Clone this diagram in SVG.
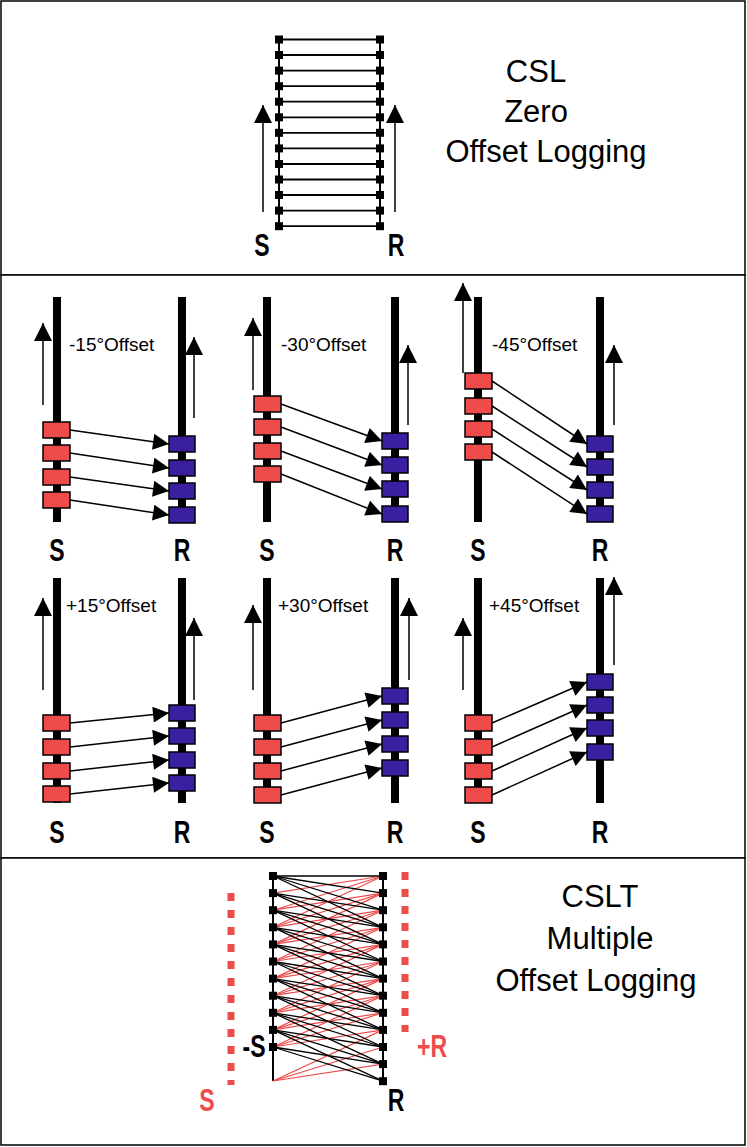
<svg xmlns="http://www.w3.org/2000/svg" width="747" height="1147" viewBox="0 0 747 1147">
<defs>
<marker id="au" viewBox="0 0 10 10" refX="10" refY="5" markerWidth="20" markerHeight="18" markerUnits="userSpaceOnUse" orient="auto"><path d="M0,0L10,5L0,10z" fill="#000"/></marker>
<marker id="ab" viewBox="0 0 10 10" refX="10" refY="5" markerWidth="18" markerHeight="16" markerUnits="userSpaceOnUse" orient="auto"><path d="M0,0L10,5L0,10z" fill="#000"/></marker>
</defs>
<style>
.frame{fill:#fff;stroke:#000;stroke-width:1.5}
.big{font-family:"Liberation Sans",Arial,sans-serif;font-size:31px;text-anchor:middle}
.lab{font-family:"Liberation Sans",Arial,sans-serif;font-size:32px;font-weight:bold;text-anchor:middle}
.off{font-family:"Liberation Sans",Arial,sans-serif;font-size:19px}
.bar{stroke:#000;stroke-width:8}
.up{stroke:#000;stroke-width:1.5;marker-end:url(#au)}
.red{fill:#ee4b4b;stroke:#000;stroke-width:1.5}
.blue{fill:#3a1fa0;stroke:#000;stroke-width:1.5}
.conn{stroke:#000;stroke-width:1.5;marker-end:url(#ab)}
</style>
<rect class="frame" x="1" y="1" width="744" height="274"/>
<rect class="frame" x="1" y="275" width="744" height="583"/>
<rect class="frame" x="1" y="858" width="744" height="287"/>

<g id="top">
<line x1="279" y1="39" x2="279" y2="227" stroke="#000" stroke-width="2"/>
<line x1="380" y1="39" x2="380" y2="227" stroke="#000" stroke-width="2"/>
<g id="ladder" stroke="#000" stroke-width="1.8">
<line x1="279" y1="39.5" x2="380" y2="39.5"/><line x1="279" y1="55" x2="380" y2="55"/><line x1="279" y1="70.6" x2="380" y2="70.6"/><line x1="279" y1="86.2" x2="380" y2="86.2"/><line x1="279" y1="101.7" x2="380" y2="101.7"/><line x1="279" y1="117.3" x2="380" y2="117.3"/><line x1="279" y1="132.8" x2="380" y2="132.8"/><line x1="279" y1="148.4" x2="380" y2="148.4"/><line x1="279" y1="164" x2="380" y2="164"/><line x1="279" y1="179.5" x2="380" y2="179.5"/><line x1="279" y1="195" x2="380" y2="195"/><line x1="279" y1="210.6" x2="380" y2="210.6"/><line x1="279" y1="226.2" x2="380" y2="226.2"/>
</g>
<g fill="#000">
<rect x="275" y="35.5" width="8" height="8"/><rect x="275" y="51" width="8" height="8"/><rect x="275" y="66.6" width="8" height="8"/><rect x="275" y="82.2" width="8" height="8"/><rect x="275" y="97.7" width="8" height="8"/><rect x="275" y="113.3" width="8" height="8"/><rect x="275" y="128.8" width="8" height="8"/><rect x="275" y="144.4" width="8" height="8"/><rect x="275" y="160" width="8" height="8"/><rect x="275" y="175.5" width="8" height="8"/><rect x="275" y="191" width="8" height="8"/><rect x="275" y="206.6" width="8" height="8"/><rect x="275" y="222.2" width="8" height="8"/>
<rect x="376" y="35.5" width="8" height="8"/><rect x="376" y="51" width="8" height="8"/><rect x="376" y="66.6" width="8" height="8"/><rect x="376" y="82.2" width="8" height="8"/><rect x="376" y="97.7" width="8" height="8"/><rect x="376" y="113.3" width="8" height="8"/><rect x="376" y="128.8" width="8" height="8"/><rect x="376" y="144.4" width="8" height="8"/><rect x="376" y="160" width="8" height="8"/><rect x="376" y="175.5" width="8" height="8"/><rect x="376" y="191" width="8" height="8"/><rect x="376" y="206.6" width="8" height="8"/><rect x="376" y="222.2" width="8" height="8"/>
</g>
<line class="up" x1="263" y1="212" x2="263" y2="105"/>
<line class="up" x1="395" y1="212" x2="395" y2="105"/>
<text class="lab" transform="translate(262,256) scale(0.72,1)">S</text>
<text class="lab" transform="translate(396,256) scale(0.72,1)">R</text>
<text class="big" x="536" y="82">CSL</text>
<text class="big" x="536" y="122">Zero</text>
<text class="big" x="546" y="162">Offset Logging</text>
</g>

<g id="p1">
<line class="bar" x1="57" y1="297" x2="57" y2="522"/><line class="bar" x1="182" y1="297" x2="182" y2="522"/>
<line class="up" x1="43" y1="405" x2="43" y2="323"/><line class="up" x1="194" y1="418" x2="194" y2="337"/>
<text class="off" x="69" y="351">-15°Offset</text>
<rect class="red" x="43" y="422" width="27" height="16"/><rect class="red" x="43" y="445" width="27" height="16"/><rect class="red" x="43" y="469" width="27" height="16"/><rect class="red" x="43" y="492" width="27" height="16"/>
<rect class="blue" x="169" y="436" width="26" height="16"/><rect class="blue" x="169" y="460" width="26" height="16"/><rect class="blue" x="169" y="483" width="26" height="16"/><rect class="blue" x="169" y="507" width="26" height="16"/>
<line class="conn" x1="70" y1="430" x2="169" y2="444"/><line class="conn" x1="70" y1="453" x2="169" y2="468"/><line class="conn" x1="70" y1="477" x2="169" y2="491"/><line class="conn" x1="70" y1="500" x2="169" y2="515"/>
<text class="lab" transform="translate(57,561) scale(0.72,1)">S</text><text class="lab" transform="translate(182,561) scale(0.72,1)">R</text>
</g>
<g id="p2">
<line class="bar" x1="267" y1="297" x2="267" y2="522"/><line class="bar" x1="395" y1="297" x2="395" y2="522"/>
<line class="up" x1="253" y1="390" x2="253" y2="318"/><line class="up" x1="408" y1="425" x2="408" y2="345"/>
<text class="off" x="281" y="351">-30°Offset</text>
<rect class="red" x="254" y="396" width="27" height="16"/><rect class="red" x="254" y="419" width="27" height="16"/><rect class="red" x="254" y="443" width="27" height="16"/><rect class="red" x="254" y="466" width="27" height="16"/>
<rect class="blue" x="382" y="433" width="26" height="16"/><rect class="blue" x="382" y="457" width="26" height="16"/><rect class="blue" x="382" y="481" width="26" height="16"/><rect class="blue" x="382" y="506" width="26" height="16"/>
<line class="conn" x1="281" y1="404" x2="382" y2="441"/><line class="conn" x1="281" y1="427" x2="382" y2="465"/><line class="conn" x1="281" y1="451" x2="382" y2="489"/><line class="conn" x1="281" y1="474" x2="382" y2="514"/>
<text class="lab" transform="translate(267,561) scale(0.72,1)">S</text><text class="lab" transform="translate(395,561) scale(0.72,1)">R</text>
</g>
<g id="p3">
<line class="bar" x1="478" y1="297" x2="478" y2="522"/><line class="bar" x1="600" y1="297" x2="600" y2="522"/>
<line class="up" x1="463" y1="373" x2="463" y2="283"/><line class="up" x1="614" y1="425" x2="614" y2="345"/>
<text class="off" x="492" y="351">-45°Offset</text>
<rect class="red" x="465" y="373" width="27" height="16"/><rect class="red" x="465" y="398" width="27" height="16"/><rect class="red" x="465" y="421" width="27" height="16"/><rect class="red" x="465" y="444" width="27" height="16"/>
<rect class="blue" x="587" y="436" width="26" height="16"/><rect class="blue" x="587" y="459" width="26" height="16"/><rect class="blue" x="587" y="482" width="26" height="16"/><rect class="blue" x="587" y="506" width="26" height="16"/>
<line class="conn" x1="492" y1="381" x2="587" y2="444"/><line class="conn" x1="492" y1="406" x2="587" y2="467"/><line class="conn" x1="492" y1="429" x2="587" y2="490"/><line class="conn" x1="492" y1="452" x2="587" y2="514"/>
<text class="lab" transform="translate(478,561) scale(0.72,1)">S</text><text class="lab" transform="translate(600,561) scale(0.72,1)">R</text>
</g>

<g id="p4">
<line class="bar" x1="57" y1="578" x2="57" y2="803"/><line class="bar" x1="182" y1="578" x2="182" y2="803"/>
<line class="up" x1="43" y1="690" x2="43" y2="598"/><line class="up" x1="194" y1="700" x2="194" y2="618"/>
<text class="off" x="66" y="612">+15°Offset</text>
<rect class="red" x="43" y="715" width="27" height="16"/><rect class="red" x="43" y="739" width="27" height="16"/><rect class="red" x="43" y="763" width="27" height="16"/><rect class="red" x="43" y="786" width="27" height="16"/>
<rect class="blue" x="169" y="705" width="26" height="16"/><rect class="blue" x="169" y="728" width="26" height="16"/><rect class="blue" x="169" y="752" width="26" height="16"/><rect class="blue" x="169" y="775" width="26" height="16"/>
<line class="conn" x1="70" y1="723" x2="169" y2="713"/><line class="conn" x1="70" y1="747" x2="169" y2="736"/><line class="conn" x1="70" y1="771" x2="169" y2="760"/><line class="conn" x1="70" y1="794" x2="169" y2="783"/>
<text class="lab" transform="translate(57,843) scale(0.72,1)">S</text><text class="lab" transform="translate(182,843) scale(0.72,1)">R</text>
</g>
<g id="p5">
<line class="bar" x1="267" y1="578" x2="267" y2="803"/><line class="bar" x1="395" y1="578" x2="395" y2="803"/>
<line class="up" x1="253" y1="690" x2="253" y2="605"/><line class="up" x1="409" y1="680" x2="409" y2="598"/>
<text class="off" x="278" y="612">+30°Offset</text>
<rect class="red" x="254" y="715" width="27" height="16"/><rect class="red" x="254" y="739" width="27" height="16"/><rect class="red" x="254" y="763" width="27" height="16"/><rect class="red" x="254" y="787" width="27" height="16"/>
<rect class="blue" x="382" y="688" width="26" height="16"/><rect class="blue" x="382" y="712" width="26" height="16"/><rect class="blue" x="382" y="736" width="26" height="16"/><rect class="blue" x="382" y="760" width="26" height="16"/>
<line class="conn" x1="281" y1="723" x2="382" y2="696"/><line class="conn" x1="281" y1="747" x2="382" y2="720"/><line class="conn" x1="281" y1="771" x2="382" y2="744"/><line class="conn" x1="281" y1="795" x2="382" y2="768"/>
<text class="lab" transform="translate(267,843) scale(0.72,1)">S</text><text class="lab" transform="translate(395,843) scale(0.72,1)">R</text>
</g>
<g id="p6">
<line class="bar" x1="478" y1="578" x2="478" y2="803"/><line class="bar" x1="600" y1="578" x2="600" y2="803"/>
<line class="up" x1="463" y1="690" x2="463" y2="618"/><line class="up" x1="614" y1="665" x2="614" y2="577"/>
<text class="off" x="489" y="612">+45°Offset</text>
<rect class="red" x="465" y="715" width="27" height="16"/><rect class="red" x="465" y="739" width="27" height="16"/><rect class="red" x="465" y="763" width="27" height="16"/><rect class="red" x="465" y="787" width="27" height="16"/>
<rect class="blue" x="587" y="674" width="26" height="16"/><rect class="blue" x="587" y="697" width="26" height="16"/><rect class="blue" x="587" y="720" width="26" height="16"/><rect class="blue" x="587" y="744" width="26" height="16"/>
<line class="conn" x1="492" y1="723" x2="587" y2="682"/><line class="conn" x1="492" y1="747" x2="587" y2="705"/><line class="conn" x1="492" y1="771" x2="587" y2="728"/><line class="conn" x1="492" y1="795" x2="587" y2="752"/>
<text class="lab" transform="translate(478,843) scale(0.72,1)">S</text><text class="lab" transform="translate(600,843) scale(0.72,1)">R</text>
</g>

<g id="bottom">
<line x1="231" y1="893" x2="231" y2="1085" stroke="#ee4b4b" stroke-width="7" stroke-dasharray="8,9"/>
<line x1="405" y1="872" x2="405" y2="1032" stroke="#ee4b4b" stroke-width="7" stroke-dasharray="8,9"/>
<line x1="273" y1="876" x2="273" y2="1081" stroke="#000" stroke-width="2"/>
<line x1="383" y1="876" x2="383" y2="1082" stroke="#000" stroke-width="2"/>
<g id="redlines" stroke="#ee4b4b" stroke-width="1.2">
<line x1="273" y1="893.1" x2="383" y2="876"/>
<line x1="273" y1="910.2" x2="383" y2="893.1"/><line x1="273" y1="910.2" x2="383" y2="876"/>
<line x1="273" y1="927.3" x2="383" y2="910.2"/><line x1="273" y1="927.3" x2="383" y2="893.1"/><line x1="273" y1="927.3" x2="383" y2="876"/>
<line x1="273" y1="944.4" x2="383" y2="927.3"/><line x1="273" y1="944.4" x2="383" y2="910.2"/><line x1="273" y1="944.4" x2="383" y2="893.1"/>
<line x1="273" y1="961.5" x2="383" y2="944.4"/><line x1="273" y1="961.5" x2="383" y2="927.3"/><line x1="273" y1="961.5" x2="383" y2="910.2"/>
<line x1="273" y1="978.6" x2="383" y2="961.5"/><line x1="273" y1="978.6" x2="383" y2="944.4"/><line x1="273" y1="978.6" x2="383" y2="927.3"/>
<line x1="273" y1="995.7" x2="383" y2="978.6"/><line x1="273" y1="995.7" x2="383" y2="961.5"/><line x1="273" y1="995.7" x2="383" y2="944.4"/>
<line x1="273" y1="1012.8" x2="383" y2="995.7"/><line x1="273" y1="1012.8" x2="383" y2="978.6"/><line x1="273" y1="1012.8" x2="383" y2="961.5"/>
<line x1="273" y1="1029.9" x2="383" y2="1012.8"/><line x1="273" y1="1029.9" x2="383" y2="995.7"/><line x1="273" y1="1029.9" x2="383" y2="978.6"/>
<line x1="273" y1="1047" x2="383" y2="1029.9"/><line x1="273" y1="1047" x2="383" y2="1012.8"/><line x1="273" y1="1047" x2="383" y2="995.7"/>
<line x1="273" y1="1081" x2="383" y2="1064.1"/><line x1="273" y1="1081" x2="383" y2="1047"/><line x1="273" y1="1081" x2="383" y2="1029.9"/>
</g>
<g id="blacklines" stroke="#000" stroke-width="1.3">
<line x1="273" y1="876" x2="383" y2="876"/><line x1="273" y1="876" x2="383" y2="893.1"/><line x1="273" y1="876" x2="383" y2="910.2"/><line x1="273" y1="876" x2="383" y2="927.3"/>
<line x1="273" y1="893.1" x2="383" y2="910.2"/><line x1="273" y1="893.1" x2="383" y2="927.3"/><line x1="273" y1="893.1" x2="383" y2="944.4"/>
<line x1="273" y1="910.2" x2="383" y2="927.3"/><line x1="273" y1="910.2" x2="383" y2="944.4"/><line x1="273" y1="910.2" x2="383" y2="961.5"/>
<line x1="273" y1="927.3" x2="383" y2="944.4"/><line x1="273" y1="927.3" x2="383" y2="961.5"/><line x1="273" y1="927.3" x2="383" y2="978.6"/>
<line x1="273" y1="944.4" x2="383" y2="961.5"/><line x1="273" y1="944.4" x2="383" y2="978.6"/><line x1="273" y1="944.4" x2="383" y2="995.7"/>
<line x1="273" y1="961.5" x2="383" y2="978.6"/><line x1="273" y1="961.5" x2="383" y2="995.7"/><line x1="273" y1="961.5" x2="383" y2="1012.8"/>
<line x1="273" y1="978.6" x2="383" y2="995.7"/><line x1="273" y1="978.6" x2="383" y2="1012.8"/><line x1="273" y1="978.6" x2="383" y2="1029.9"/>
<line x1="273" y1="995.7" x2="383" y2="1012.8"/><line x1="273" y1="995.7" x2="383" y2="1029.9"/><line x1="273" y1="995.7" x2="383" y2="1047"/>
<line x1="273" y1="1012.8" x2="383" y2="1029.9"/><line x1="273" y1="1012.8" x2="383" y2="1047"/><line x1="273" y1="1012.8" x2="383" y2="1064.1"/>
<line x1="273" y1="1029.9" x2="383" y2="1047"/><line x1="273" y1="1029.9" x2="383" y2="1064.1"/><line x1="273" y1="1029.9" x2="383" y2="1081.2"/>
<line x1="273" y1="1047" x2="383" y2="1064.1"/><line x1="273" y1="1047" x2="383" y2="1081.2"/>
</g>
<g fill="#000">
<rect x="269" y="872" width="8" height="8"/><rect x="269" y="889.1" width="8" height="8"/><rect x="269" y="906.2" width="8" height="8"/><rect x="269" y="923.3" width="8" height="8"/><rect x="269" y="940.4" width="8" height="8"/><rect x="269" y="957.5" width="8" height="8"/><rect x="269" y="974.6" width="8" height="8"/><rect x="269" y="991.7" width="8" height="8"/><rect x="269" y="1008.8" width="8" height="8"/><rect x="269" y="1025.9" width="8" height="8"/><rect x="269" y="1043" width="8" height="8"/>
<rect x="379" y="872" width="8" height="8"/><rect x="379" y="889.1" width="8" height="8"/><rect x="379" y="906.2" width="8" height="8"/><rect x="379" y="923.3" width="8" height="8"/><rect x="379" y="940.4" width="8" height="8"/><rect x="379" y="957.5" width="8" height="8"/><rect x="379" y="974.6" width="8" height="8"/><rect x="379" y="991.7" width="8" height="8"/><rect x="379" y="1008.8" width="8" height="8"/><rect x="379" y="1025.9" width="8" height="8"/><rect x="379" y="1043" width="8" height="8"/><rect x="379" y="1060.1" width="8" height="8"/><rect x="379" y="1077.2" width="8" height="8"/>
</g>
<text class="lab" font-size="26" transform="translate(254,1057) scale(0.72,1)">-S</text>
<text class="lab" font-size="26" fill="#ee4b4b" transform="translate(432,1057) scale(0.72,1)">+R</text>
<text class="lab" fill="#ee4b4b" transform="translate(207,1111) scale(0.72,1)">S</text>
<text class="lab" transform="translate(396,1111) scale(0.72,1)">R</text>
<text class="big" x="600" y="907">CSLT</text>
<text class="big" x="600" y="949">Multiple</text>
<text class="big" x="596" y="991">Offset Logging</text>
</g>
</svg>
